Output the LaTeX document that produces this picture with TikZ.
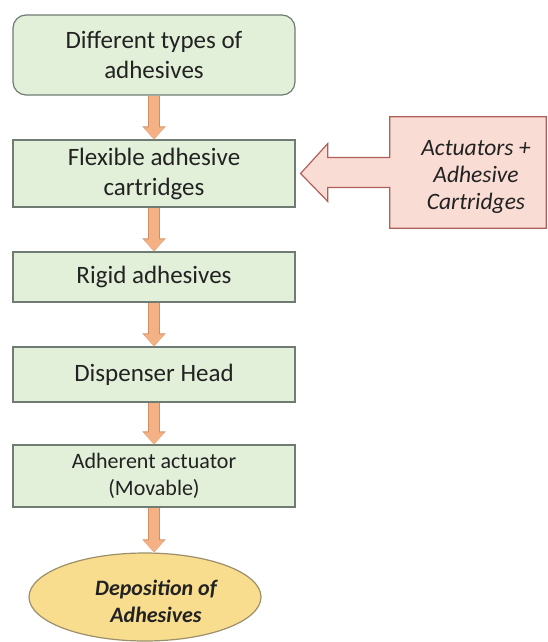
\documentclass[tikz,border=0pt]{standalone}
\usepackage{fontspec}
\setmainfont{Carlito}
\usetikzlibrary{arrows.meta,shapes.geometric,calc}
\definecolor{boxfill}{HTML}{E2EFD9}
\definecolor{boxline}{HTML}{6F7B73}
\definecolor{flowfill}{HTML}{F4B183}
\definecolor{flowline}{HTML}{CF8D66}
\definecolor{notefill}{HTML}{F9DCD3}
\definecolor{noteline}{HTML}{B0605A}
\definecolor{endfill}{HTML}{F8DD8E}
\definecolor{endline}{HTML}{9C8F6A}
\definecolor{txt}{HTML}{222222}
\tikzstyle{stage}=[draw=boxline,fill=boxfill,line width=1.2pt,minimum width=282pt,
  inner sep=0pt,align=center,text=txt,font=\fontsize{25}{30}\selectfont]
\tikzstyle{flow}=[flowfill,line width=10pt,-{Triangle[length=12pt,width=20pt]},
  preaction={draw=flowline,line width=11.5pt,-{Triangle[length=13pt,width=22.5pt]}}]
\def\colx{154}

\begin{document}
\begin{tikzpicture}[x=1pt,y=1pt]
  \useasboundingbox (0,0) rectangle (547,-642);

  % STAGES
  \node[stage,rounded corners=13pt,minimum height=80pt] (types) at (\colx,-55) {Different types of\\adhesives};
  \node[stage,minimum height=67pt] (flex)  at (\colx,-173.5) {Flexible adhesive\\cartridges};
  \node[stage,minimum height=50pt] (rigid) at (\colx,-277) {Rigid adhesives};
  \node[stage,minimum height=55pt] (head)  at (\colx,-374.5) {Dispenser Head};
  \node[stage,minimum height=62pt,font=\fontsize{22}{27}\selectfont] (act) at (\colx,-476) {Adherent actuator\\(Movable)};
  \node[ellipse,draw=endline,fill=endfill,line width=1.2pt,minimum width=232pt,minimum height=88pt,
    inner sep=0pt] (dep) at (145,-597) {};
  \node[align=center,text=txt,font=\fontsize{22}{27}\selectfont\bfseries\itshape]
    (deptxt) at ($(dep)+(11,-4)$) {Deposition of\\Adhesives};

  % FLOW
  \draw[flow] (types) -- (flex);
  \draw[flow] (flex) -- (rigid);
  \draw[flow] (rigid) -- (head);
  \draw[flow] (head) -- (act);
  \draw[flow] (act) -- (act |- dep.north);

  % NOTE
  \node[minimum width=156pt,minimum height=111pt,inner sep=0pt] (note) at (468,-172.5) {};
  \draw[noteline,fill=notefill,line width=1.2pt]
    (note.north west) -- (note.north east) -- (note.south east) -- (note.south west)
    -- ($(note.west)+(0,-15)$) -- ++(-62,0) -- ++(0,-14) -- ($(flex.east)+(5,0)$) coordinate (tip)
    -- ($(note.west)+(-62,29)$) -- ++(0,-14) -- ($(note.west)+(0,15)$) -- cycle;
  \node[align=center,text=txt,font=\fontsize{23.5}{27}\selectfont\itshape] (notetxt) at ($(note)+(8,-4)$) {Actuators +\\Adhesive\\Cartridges};
\end{tikzpicture}
\end{document}
